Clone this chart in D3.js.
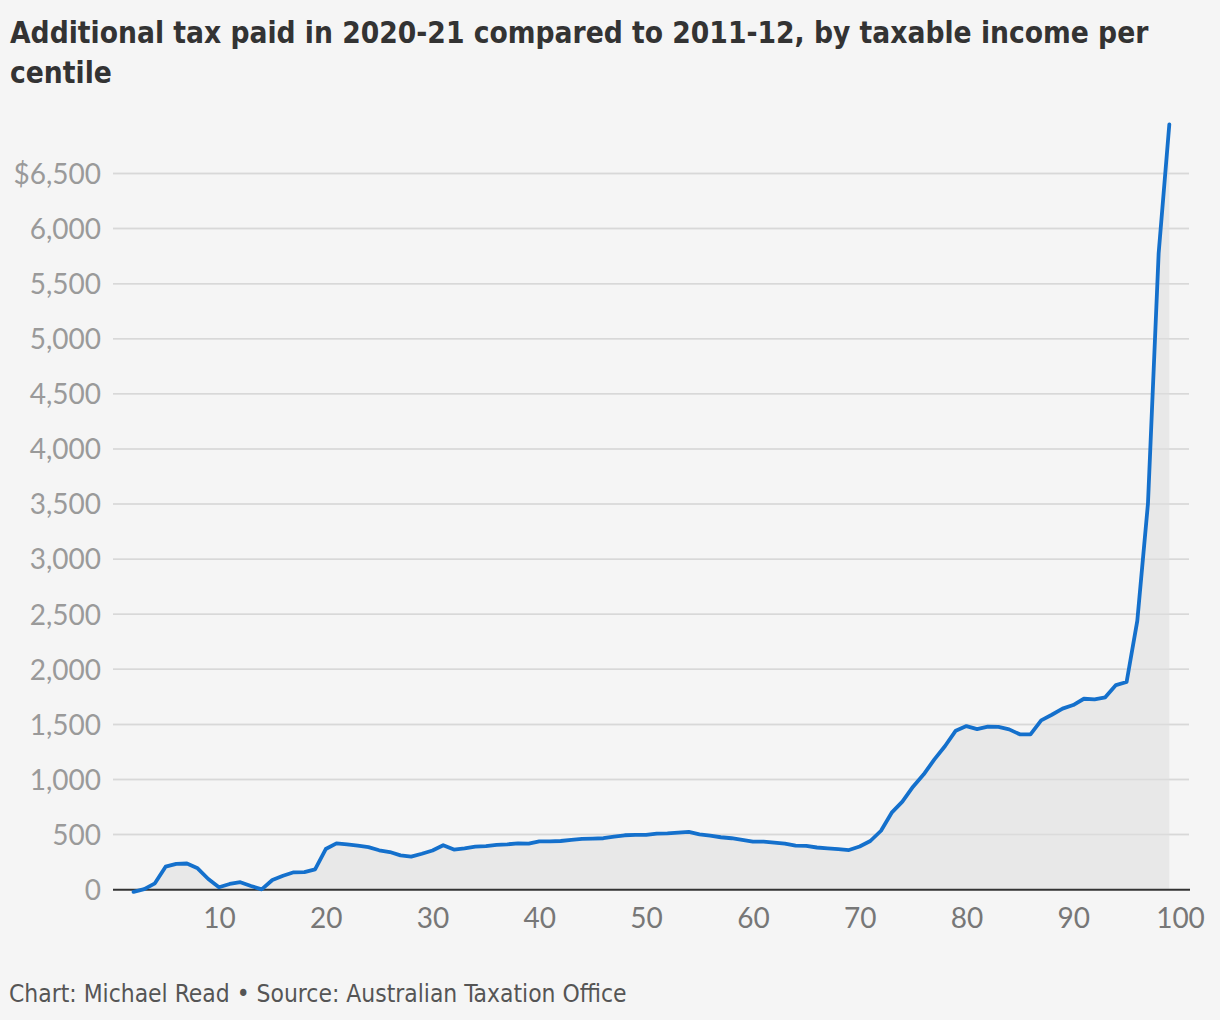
<!DOCTYPE html>
<html>
<head>
<meta charset="utf-8">
<script src="https://cdn.jsdelivr.net/npm/d3@7"></script>
<style>
  html, body { margin: 0; padding: 0; background: #f5f5f5; }
  svg { display: block; }
</style>
</head>
<body>
<svg id="chart" width="1220" height="1020"></svg>
<script>
// ---- data ----
const centiles = [2,3,4,5,6,7,8,9,10,11,12,13,14,15,16,17,18,19,20,21,22,23,24,25,26,27,28,29,30,31,32,33,34,35,36,37,38,39,40,41,42,43,44,45,46,47,48,49,50,51,52,53,54,55,56,57,58,59,60,61,62,63,64,65,66,67,68,69,70,71,72,73,74,75,76,77,78,79,80,81,82,83,84,85,86,87,88,89,90,91,92,93,94,95,96,97,98,99];
const additionalTax = [-20,5,58,209,235,238,194,97,22,52,68,34,3,88,127,158,160,185,369,421,412,400,386,358,342,312,300,326,356,404,364,375,390,396,406,412,421,418,439,439,442,452,461,464,467,481,494,497,497,509,512,518,524,503,490,476,467,452,436,436,427,418,400,397,383,375,368,360,392,442,535,699,799,935,1047,1183,1304,1443,1485,1458,1480,1477,1455,1410,1410,1537,1588,1643,1676,1733,1727,1746,1857,1885,2440,3505,5775,6945];
const yTicks = [0,500,1000,1500,2000,2500,3000,3500,4000,4500,5000,5500,6000,6500];
const xTicks = [10,20,30,40,50,60,70,80,90,100];
const titleLines = ["Additional tax paid in 2020-21 compared to 2011-12, by taxable income per", "centile"];
const footerText = "Chart: Michael Read \u2022 Source: Australian Taxation Office";

const data = centiles.map((c, i) => ({x: c, y: additionalTax[i]}));

const svg = d3.select("#chart");
svg.append("rect").attr("width", 1220).attr("height", 1020).attr("fill", "#f5f5f5");

const x = d3.scaleLinear().domain([0, 100]).range([112.2, 1180]);
const y = d3.scaleLinear().domain([0, 6500]).range([889.7, 173.5]);

const gridLeft = 113, gridRight = 1189;

// title
const title = svg.append("g");
titleLines.forEach((t, i) => {
  title.append("text")
    .attr("x", 10).attr("y", 43 + i * 40)
    .attr("font-family", "'DejaVu Sans Condensed', 'Liberation Sans Narrow', 'Roboto', sans-serif")
    .attr("font-weight", "bold")
    .attr("font-size", 29.6)
    .attr("fill", "#333333")
    .text(t);
});

// gridlines
svg.append("g").selectAll("line").data(yTicks.filter(d => d > 0)).join("line")
  .attr("x1", gridLeft).attr("x2", gridRight)
  .attr("y1", d => y(d)).attr("y2", d => y(d))
  .attr("stroke", "#dcdcdc").attr("stroke-width", 1.5);

// y axis labels
const yAxis = d3.axisLeft(y).tickValues(yTicks).tickSize(0).tickPadding(0)
  .tickFormat(d => (d === 6500 ? "$" : "") + d3.format(",")(d));
const gy = svg.append("g").attr("transform", "translate(101,0)").call(yAxis);
gy.select(".domain").remove();
gy.selectAll("text")
  .attr("font-family", "Lato, 'Open Sans', sans-serif")
  .attr("font-size", 28).attr("fill", "#9a9a9a").attr("dy", "0.35em");

// area
const area = d3.area().x(d => x(d.x)).y0(y(0)).y1(d => y(d.y));
svg.append("path").datum(data).attr("d", area).attr("fill", "#e8e8e8");

// gridlines visible over the area
svg.append("g").selectAll("line").data(yTicks.filter(d => d > 0)).join("line")
  .attr("x1", gridLeft).attr("x2", gridRight)
  .attr("y1", d => y(d)).attr("y2", d => y(d))
  .attr("stroke", "#d8d8d8").attr("stroke-width", 1.5).attr("opacity", 0.8);

// baseline
svg.append("line").attr("x1", gridLeft).attr("x2", 1190)
  .attr("y1", y(0)).attr("y2", y(0))
  .attr("stroke", "#333333").attr("stroke-width", 2);

// line
const line = d3.line().x(d => x(d.x)).y(d => y(d.y));
svg.append("path").datum(data).attr("d", line)
  .attr("fill", "none").attr("stroke", "#1470cc").attr("stroke-width", 3.8)
  .attr("stroke-linejoin", "round").attr("stroke-linecap", "round");

// x axis labels
const xAxis = d3.axisBottom(x).tickValues(xTicks).tickSize(0).tickPadding(0);
const gx = svg.append("g").attr("transform", `translate(0,${y(0)})`).call(xAxis);
gx.select(".domain").remove();
gx.selectAll("text")
  .attr("font-family", "Lato, 'Open Sans', sans-serif")
  .attr("font-size", 28).attr("fill", "#777777")
  .attr("dy", "0").attr("y", 38);

// footer
svg.append("text").attr("x", 9).attr("y", 1002)
  .attr("font-family", "'DejaVu Sans Condensed', 'Liberation Sans Narrow', Roboto, sans-serif")
  .attr("font-size", 24.4).attr("fill", "#555555")
  .text(footerText);
</script>
</body>
</html>
